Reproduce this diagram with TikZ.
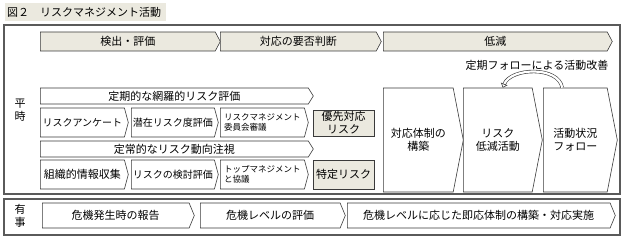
\documentclass[tikz,border=0pt]{standalone}
\usepackage{fontspec}
\setmainfont{Noto Sans CJK JP}
\usetikzlibrary{shapes.symbols,arrows.meta}
\definecolor{beige}{HTML}{EBE9DF}
\definecolor{edge}{HTML}{3A3A3A}
\definecolor{frame}{HTML}{5A5A5A}
\tikzset{
  base/.style={draw=edge, line width=0.6pt, inner sep=0pt, font=\fontsize{11}{13}\selectfont},
  chev/.style={base, signal, signal to=east, anchor=west, fill=white},
  headchev/.style={chev, fill=beige, minimum height=19, signal pointer angle=124},
  rowchev/.style={chev, minimum height=16, signal pointer angle=116},
  stepchev/.style={chev, minimum height=29, signal pointer angle=150},
  bigchev/.style={chev, minimum height=104, minimum width=76, signal pointer angle=158, align=center},
  crisis/.style={chev, minimum height=25, signal pointer angle=135},
  small/.style={font=\fontsize{8.5}{10}\selectfont, align=left},
  result/.style={base, fill=beige, minimum width=61, align=center},
  band/.style={draw=edge, double=white, double distance=2.2pt, line width=0.6pt,
    -{Triangle[open, length=4pt, width=7pt]}}
}
\begin{document}
\begin{tikzpicture}[x=1pt, y=-1pt]
  \useasboundingbox (0,0) rectangle (624,238);

  % title
  \fill[beige] (5,3) rectangle (166,21);
  \node[anchor=west, inner sep=0pt, font=\fontsize{11}{13}\selectfont] (title) at (7,12.5) {図２　リスクマネジメント活動};

  % frames
  \draw[frame, line width=1.3pt] (4,25) rectangle (620,194);
  \draw[frame, line width=1.3pt] (4,199) rectangle (620,235);
  \node[font=\fontsize{11}{13}\selectfont, align=center] (heiji) at (20,110) {平\\時};
  \node[font=\fontsize{11}{13}\selectfont, align=center] (yuji) at (20,216) {有\\事};

  % phases
  \node[headchev, minimum width=180] (detect) at (40,41.5) {検出・評価};
  \node[headchev, minimum width=161] (judge) at (220,41.5) {対応の要否判断};
  \node[headchev, minimum width=229] (reduce-h) at (383,41.5) {低減};

  % periodic assessment
  \node[rowchev, minimum width=273] (periodic) at (40,96) {定期的な網羅的リスク評価};
  \node[stepchev, minimum width=88, font=\fontsize{10}{12}\selectfont] (survey) at (40,122.5) {リスクアンケート};
  \node[stepchev, minimum width=87, font=\fontsize{10}{12}\selectfont] (latent) at (131,122.5) {潜在リスク度評価};
  \node[stepchev, minimum width=88, small] (committee) at (220,122.5) {リスクマネジメント\\委員会審議};
  \node[result, minimum height=26] (prio) at (343.5,123) {優先対応\\リスク};

  % continuous monitoring
  \node[rowchev, minimum width=273] (steady) at (40,149) {定常的なリスク動向注視};
  \node[stepchev, minimum width=88] (collect) at (40,174.5) {組織的情報収集};
  \node[stepchev, minimum width=87, font=\fontsize{10}{12}\selectfont] (review) at (131,174.5) {リスクの検討評価};
  \node[stepchev, minimum width=88, small] (topmgmt) at (220,174.5) {トップマネジメント\\と協議};
  \node[result, minimum height=29] (specific) at (343.5,174.5) {特定リスク};

  % reduction
  \node[bigchev, minimum width=80] (setup) at (383,140) {対応体制の\\構築};
  \node[bigchev, minimum width=79] (reduce) at (463,140) {リスク\\低減活動};
  \node[bigchev, minimum width=74] (follow) at (543,140) {活動状況\\フォロー};

  \node[font=\fontsize{11}{13}\selectfont] (improve) at (537,65) {定期フォローによる活動改善};
  \draw[band] ([xshift=-13]follow.north) .. controls +(-4,-22) and +(8,-20) .. ([xshift=5]reduce.north);

  % emergency
  \node[crisis, minimum width=152] (report) at (42,215.5) {危機発生時の報告};
  \node[crisis, minimum width=145] (level) at (200,215.5) {危機レベルの評価};
  \node[crisis, minimum width=268] (respond) at (347,215.5) {危機レベルに応じた即応体制の構築・対応実施};
\end{tikzpicture}
\end{document}
